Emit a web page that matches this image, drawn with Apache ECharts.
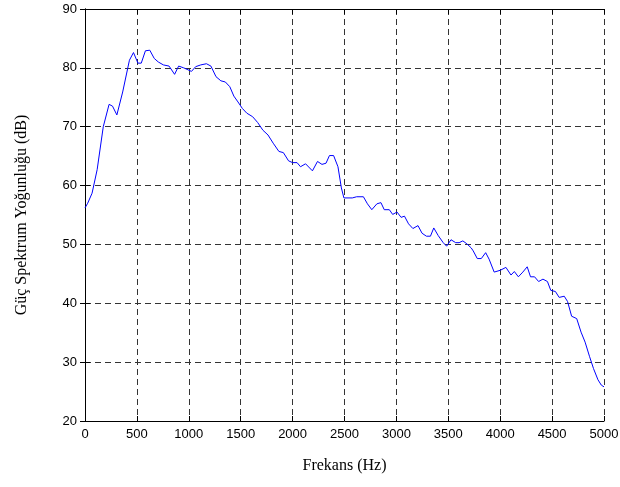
<!DOCTYPE html>
<html><head><meta charset="utf-8">
<script src="https://cdn.jsdelivr.net/npm/echarts@6/dist/echarts.min.js"></script>
<style>html,body{margin:0;padding:0;background:#fff}#c{width:620px;height:487px}</style>
</head><body><div id="c"></div>
<script>
var xTicks = [0,500,1000,1500,2000,2500,3000,3500,4000,4500,5000];
var yTicks = [20,30,40,50,60,70,80,90];
var freqs = [0,26,68,117,176,232,265,307,363,428,467,510,542,582,624,667,706,755,810,863,902,951,1026,1066,1115,1170,1213,1262,1309,1352,1395,1434,1474,1516,1559,1615,1664,1714,1763,1813,1868,1911,1961,2000,2043,2076,2125,2191,2240,2283,2322,2355,2395,2437,2470,2494,2575,2617,2682,2721,2763,2812,2851,2883,2932,2964,3006,3045,3078,3117,3159,3208,3247,3289,3328,3360,3403,3451,3484,3526,3571,3604,3640,3679,3721,3740,3779,3818,3860,3893,3942,4000,4055,4104,4136,4175,4218,4260,4292,4331,4370,4412,4455,4487,4532,4568,4617,4649,4688,4737,4779,4818,4860,4899,4942,4974,5000];
var dbs = [56.2,57,58.7,62.7,70,73.8,73.5,72,75.9,81.3,82.6,80.8,80.8,82.9,83,81.6,81,80.5,80.3,78.9,80.3,80,79.4,80.2,80.5,80.7,80.3,78.5,77.8,77.6,76.8,75.2,74.2,73.1,72.3,71.7,70.7,69.4,68.6,67.2,65.8,65.6,64.2,63.9,63.9,63.2,63.7,62.5,64.1,63.6,63.8,65.1,65.1,63.2,59.6,57.9,57.9,58.1,58.1,56.9,55.9,56.9,57.1,55.9,55.9,55.1,55.5,54.6,54.8,53.5,52.7,53.2,51.9,51.4,51.4,52.8,51.5,50.3,49.7,50.8,50.3,50.3,50.6,50.1,49.4,48.9,47.6,47.6,48.6,47.5,45.3,45.6,46.1,44.8,45.4,44.5,45.3,46.2,44.5,44.5,43.7,44.1,43.7,42.2,42,41,41.2,40.3,37.8,37.4,35.1,33.4,31,28.9,27,26.1,25.8];
var xName = 'Frekans (Hz)';
var yName = 'Güç Spektrum Yoğunluğu (dB)';

var pts = freqs.map(function(f,i){return [f,dbs[i]];});
var chart = echarts.init(document.getElementById('c'));
var tickFont = {fontFamily:'Liberation Sans', fontSize:13, color:'#000'};
var gridLine = {show:true, lineStyle:{color:'#333', type:[6,4], width:1}};
chart.setOption({
  animation:false,
  grid:{left:85, right:16, top:9, bottom:66, outerBoundsMode:'none', containLabel:false},
  xAxis:[{
    type:'value', min:xTicks[0], max:xTicks[xTicks.length-1], interval:500,
    name:xName, nameLocation:'middle', nameGap:37,
    nameTextStyle:{fontFamily:'Liberation Serif', fontSize:16, color:'#000'},
    axisLine:{show:true, lineStyle:{color:'#000', width:1}},
    axisTick:{show:true, inside:true, length:5, lineStyle:{color:'#000'}},
    axisLabel:Object.assign({margin:7, formatter:function(v){return String(v);}}, tickFont),
    splitLine:gridLine
  },{
    type:'value', position:'top', min:xTicks[0], max:xTicks[xTicks.length-1], interval:500,
    axisLine:{show:true, lineStyle:{color:'#000', width:1}},
    axisTick:{show:true, inside:true, length:5, lineStyle:{color:'#000'}},
    axisLabel:{show:false}, splitLine:{show:false}
  }],
  yAxis:[{
    type:'value', min:yTicks[0], max:yTicks[yTicks.length-1], interval:10,
    name:yName, nameLocation:'middle', nameGap:55, nameRotate:90,
    nameTextStyle:{fontFamily:'Liberation Serif', fontSize:16, color:'#000'},
    axisLine:{show:true, lineStyle:{color:'#000', width:1}},
    axisTick:{show:true, inside:true, length:5, lineStyle:{color:'#000'}},
    axisLabel:Object.assign({margin:8, formatter:function(v){return String(v);}}, tickFont),
    splitLine:gridLine
  },{
    type:'value', position:'right', min:yTicks[0], max:yTicks[yTicks.length-1], interval:10,
    axisLine:{show:true, lineStyle:{color:'#000', width:1}},
    axisTick:{show:true, inside:true, length:5, lineStyle:{color:'#000'}},
    axisLabel:{show:false}, splitLine:{show:false}
  }],
  series:[{
    type:'line', data:pts, showSymbol:false, symbol:'none',
    lineStyle:{color:'#0000ff', width:1}, itemStyle:{color:'#0000ff'}
  }]
});
</script></body></html>
